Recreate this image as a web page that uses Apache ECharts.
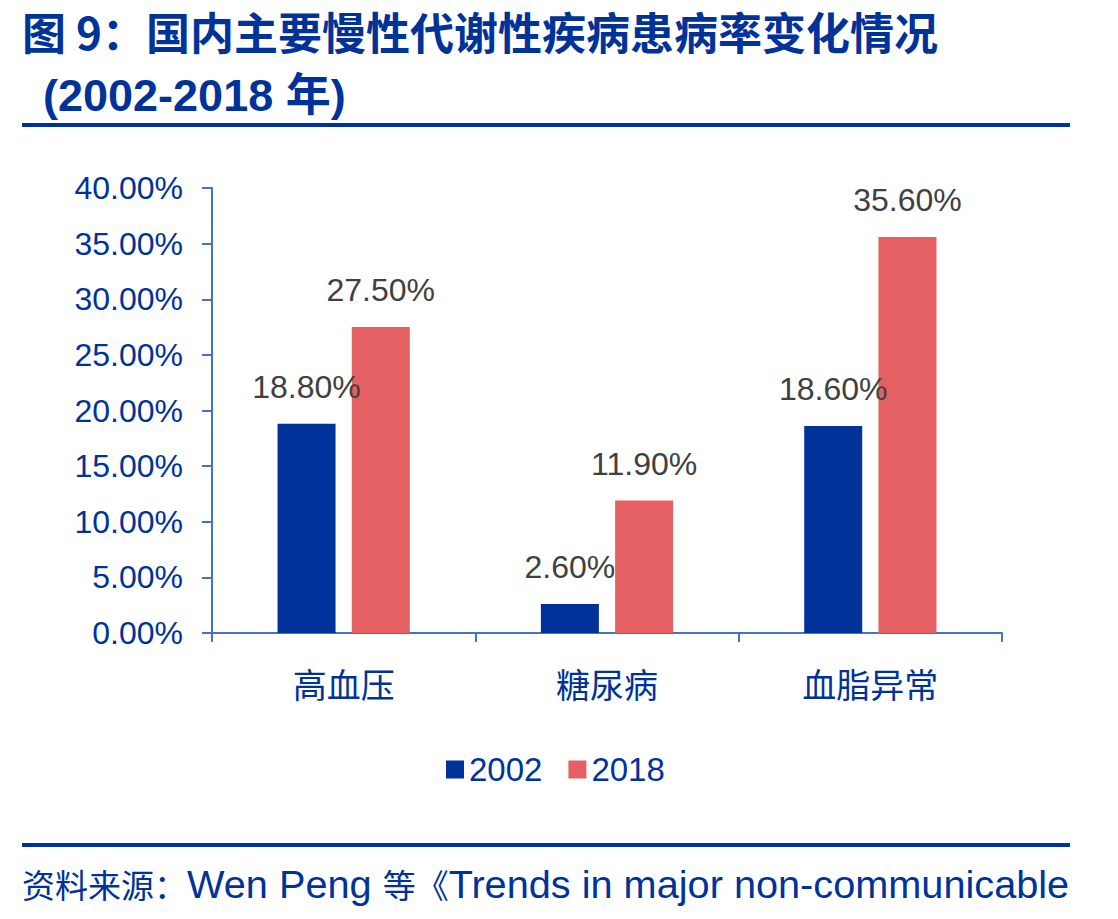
<!DOCTYPE html>
<html>
<head>
<meta charset="utf-8">
<script src="https://cdn.jsdelivr.net/npm/echarts@6/dist/echarts.min.js"></script>
<style>
  html, body { margin: 0; padding: 0; background: #fff; }
  #main { width: 1118px; height: 919px; }
</style>
</head>
<body>
<div id="main"></div>
<script>
var categories = ['高血压', '糖尿病', '血脂异常'];
var seriesNames = ['2002', '2018'];
var values2002 = [18.8, 2.6, 18.6];
var values2018 = [27.5, 11.9, 35.6];
var yTicks = { min: 0, max: 40, interval: 5 };

var navy = '#003399';
var red = '#E56062';
var axisBlue = '#4472C4';
var numFont = '"Liberation Sans", Arial, sans-serif';
var cjkFont = '"Liberation Sans", "Noto Sans CJK SC", sans-serif';

var chart = echarts.init(document.getElementById('main'), null, { renderer: 'svg' });

function pct(v) { return v.toFixed(2) + '%'; }

var option = {
  backgroundColor: '#fff',
  animation: false,
  graphic: [
    {
      type: 'text', left: 22, top: 9,
      style: { text: '图 9：国内主要慢性代谢性疾病患病率变化情况', fill: navy,
        font: 'bold 44px "Noto Sans CJK SC", sans-serif' }
    },
    {
      type: 'text', left: 43, top: 73,
      style: { text: '(2002-2018 年)', fill: navy,
        font: 'bold 45px "Liberation Sans", "Noto Sans CJK SC", sans-serif' }
    },
    { type: 'rect', shape: { x: 22, y: 123, width: 1048, height: 4 }, style: { fill: navy } },
    { type: 'rect', shape: { x: 22, y: 843, width: 1048, height: 4 }, style: { fill: navy } },
    {
      type: 'text', left: 22, top: 864,
      style: {
        text: '{c|资料来源：}{l|Wen Peng }{c|等《}{l|Trends in major non-communicable}',
        fill: navy,
        rich: {
          c: { fontSize: 33, fontFamily: '"Noto Sans CJK SC", sans-serif', fill: navy },
          l: { fontSize: 39.7, fontFamily: numFont, fill: navy }
        }
      }
    }
  ],
  legend: {
    data: seriesNames,
    top: 748,
    left: 441,
    itemWidth: 18,
    itemHeight: 18,
    itemGap: 26,
    icon: 'rect',
    textStyle: { color: navy, fontSize: 33, fontFamily: numFont }
  },
  grid: { left: 212, right: 116, top: 188, bottom: 286, containLabel: false },
  xAxis: {
    type: 'category',
    data: categories,
    axisLine: { lineStyle: { color: axisBlue, width: 2 } },
    axisTick: { show: true, length: 9, lineStyle: { color: axisBlue, width: 2 } },
    axisLabel: { color: navy, fontSize: 34, margin: 36, fontFamily: cjkFont }
  },
  yAxis: {
    type: 'value',
    min: yTicks.min,
    max: yTicks.max,
    interval: yTicks.interval,
    axisLine: { show: true, lineStyle: { color: axisBlue, width: 2 } },
    axisTick: { show: true, length: 10, lineStyle: { color: axisBlue, width: 2 } },
    splitLine: { show: false },
    axisLabel: {
      color: navy, fontSize: 32, margin: 29, fontFamily: numFont,
      formatter: function (v) { return pct(v); }
    }
  },
  series: [
    {
      name: seriesNames[0], type: 'bar', data: values2002,
      barWidth: 58, barGap: '28%',
      itemStyle: { color: navy },
      label: {
        show: true, position: 'top', distance: 21, color: '#404040',
        fontSize: 32, fontFamily: numFont,
        formatter: function (p) { return pct(p.value); }
      }
    },
    {
      name: seriesNames[1], type: 'bar', data: values2018,
      barWidth: 58, barGap: '28%',
      itemStyle: { color: red },
      label: {
        show: true, position: 'top', distance: 21, color: '#404040',
        fontSize: 32, fontFamily: numFont,
        formatter: function (p) { return pct(p.value); }
      }
    }
  ]
};

chart.setOption(option);
</script>
</body>
</html>
